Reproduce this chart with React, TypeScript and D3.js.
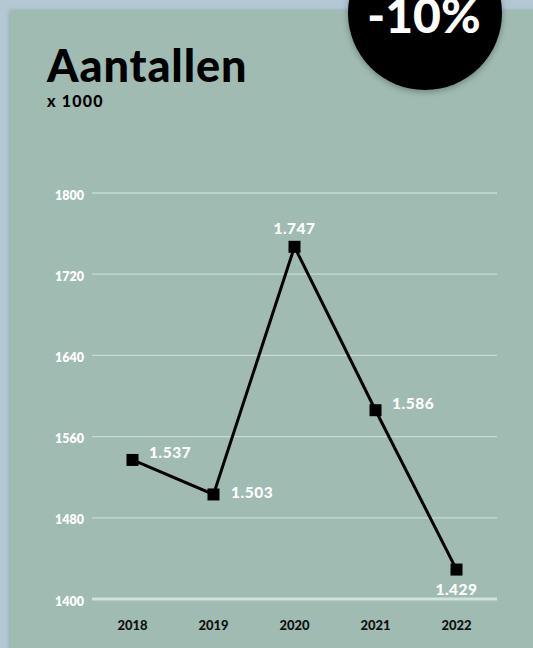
import React from "react";
import * as d3 from "d3";

const years = ["2018", "2019", "2020", "2021", "2022"];
const values = [1537, 1503, 1747, 1586, 1429];
const valueLabels = ["1.537", "1.503", "1.747", "1.586", "1.429"];
const labelPlacement = ["rightUp", "right", "above", "rightUp", "below"];
const yTicks = [1400, 1480, 1560, 1640, 1720, 1800];

const W = 533;
const H = 648;

export default function App() {
  const x = d3.scaleBand<string>().domain(years).range([92, 497]).padding(0);
  const y = d3.scaleLinear().domain([1400, 1800]).range([599, 193]);
  const cx = (d: string) => (x(d) as number) + x.bandwidth() / 2;
  const line = d3
    .line<number>()
    .x((_, i) => cx(years[i]))
    .y((v) => y(v));
  const font = "'Lato', 'Noto Sans', sans-serif";

  return (
    <svg
      width={W}
      height={H}
      style={{ position: "absolute", left: 0, top: 0, display: "block" }}
    >
      <defs>
        <filter id="sh" x="-20%" y="-20%" width="140%" height="140%">
          <feDropShadow dx="0" dy="1" stdDeviation="2" floodColor="#000" floodOpacity="0.25" />
        </filter>
        <filter id="csh" x="-20%" y="-20%" width="140%" height="140%">
          <feDropShadow dx="0" dy="2" stdDeviation="3" floodColor="#000" floodOpacity="0.3" />
        </filter>
      </defs>
      <rect x={0} y={0} width={W} height={H} fill="#b3c8d4" />
      <rect x={10} y={10} width={W + 20} height={H + 20} fill="#9fbbb2" filter="url(#sh)" />

      <text x={47} y={82} fontFamily={font} fontWeight={900} fontSize={45} letterSpacing={0.9} fill="#000">
        Aantallen
      </text>
      <text x={47} y={107} fontFamily={font} fontWeight={900} fontSize={16} letterSpacing={1.2} fill="#000">
        x 1000
      </text>

      {yTicks.map((t) => (
        <g key={t}>
          <line
            x1={92}
            x2={497}
            y1={y(t)}
            y2={y(t)}
            stroke={t === 1400 ? "#d3e0db" : "#c9dad4"}
            strokeWidth={t === 1400 ? 3 : 1.3}
          />
          <text
            x={84}
            y={y(t) + 6.5}
            textAnchor="end"
            fontFamily={font}
            fontWeight={800}
            fontSize={12.5}
            fill="#fff"
          >
            {t}
          </text>
        </g>
      ))}

      {years.map((yr) => (
        <text
          key={yr}
          x={cx(yr)}
          y={630}
          textAnchor="middle"
          fontFamily={font}
          fontWeight={900}
          fontSize={13}
          fill="#111"
        >
          {yr}
        </text>
      ))}

      <path d={line(values) || ""} fill="none" stroke="#000" strokeWidth={3} />
      {values.map((v, i) => (
        <rect
          key={i}
          x={cx(years[i]) - 6}
          y={y(v) - 6}
          width={12}
          height={12}
          fill="#000"
        />
      ))}
      {values.map((v, i) => {
        const p = labelPlacement[i];
        const px = cx(years[i]);
        const py = y(v);
        let tx = px,
          ty = py,
          anchor = "middle";
        if (p === "rightUp") {
          tx = px + 16.5;
          ty = py - 1.5;
          anchor = "start";
        } else if (p === "right") {
          tx = px + 17.5;
          ty = py + 4;
          anchor = "start";
        } else if (p === "above") {
          ty = py - 12.7;
        } else {
          ty = py + 25.5;
        }
        return (
          <text
            key={i}
            x={tx}
            y={ty}
            textAnchor={anchor}
            fontFamily={font}
            fontWeight={900}
            fontSize={15.5}
            letterSpacing={0.5}
            fill="#fff"
          >
            {valueLabels[i]}
          </text>
        );
      })}

      <circle cx={425} cy={13} r={77} fill="#000" filter="url(#csh)" />
      <text
        x={424}
        y={33}
        textAnchor="middle"
        fontFamily={font}
        fontWeight={900}
        fontSize={48}
        fill="#fff"
      >
        -10%
      </text>
    </svg>
  );
}
